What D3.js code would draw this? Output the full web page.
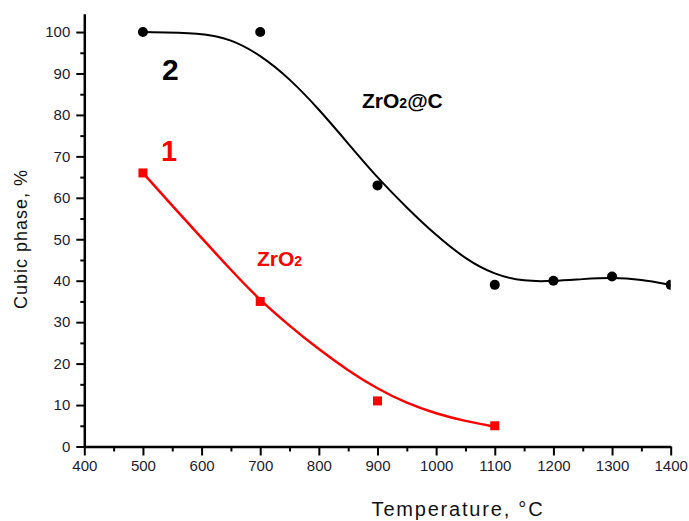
<!DOCTYPE html>
<html>
<head>
<meta charset="utf-8">
<script src="https://cdn.jsdelivr.net/npm/d3@7"></script>
<style>
  body { margin: 0; background: #fff; }
  svg { display: block; font-family: 'Liberation Sans', Arial, sans-serif; }
</style>
</head>
<body>
<div data-js-graph></div>
<script>
// measured points
const tempZrO2C = [500, 700, 900, 1100, 1200, 1300, 1400];
const cubicZrO2C = [100, 100, 63, 39, 40, 41, 39];
const tempZrO2 = [500, 700, 900, 1100];
const cubicZrO2 = [66, 35, 11, 5];

// fitted curves
const fitTempC = [500, 600, 650, 700, 750, 800, 850, 900, 950, 1000, 1050, 1100, 1150, 1200, 1250, 1300, 1350, 1400];
const fitCubicC = [100, 99.8, 98.3, 94.5, 88.8, 81.4, 73.1, 64.8, 57.6, 50.9, 45.2, 41.4, 39.8, 39.9, 40.4, 40.8, 40.3, 39];
const fitTemp = [500, 550, 600, 650, 700, 750, 800, 850, 900, 950, 1000, 1050, 1100];
const fitCubic = [66, 58.1, 50.3, 42.6, 35.2, 29.1, 23.4, 18.3, 13.9, 10.4, 7.9, 6.1, 4.8];

const xTicks = [400, 500, 600, 700, 800, 900, 1000, 1100, 1200, 1300, 1400];
const yTicks = [0, 10, 20, 30, 40, 50, 60, 70, 80, 90, 100];

const SETTING = {
  width: 689,
  height: 521,
  left: 84.3,
  right: 670.7,
  top: 13.8,
  bottom: 446.5,
};

const svg = d3.select('[data-js-graph]').append('svg')
  .attr('width', SETTING.width)
  .attr('height', SETTING.height);

const x = d3.scaleLinear().domain([400, 1400]).range([SETTING.left, SETTING.right]);
const y = d3.scaleLinear().domain([0, 104.4]).range([SETTING.bottom, SETTING.top]);

svg.append('clipPath').attr('id', 'plotclip')
  .append('rect')
  .attr('x', SETTING.left)
  .attr('y', 0)
  .attr('width', SETTING.right - SETTING.left)
  .attr('height', SETTING.bottom);

// minor ticks
svg.append('g')
  .attr('transform', `translate(0,${SETTING.bottom})`)
  .call(d3.axisBottom(x).tickValues(d3.range(450, 1400, 100)).tickSize(5).tickFormat(''))
  .call((g) => g.select('.domain').remove());
svg.append('g')
  .attr('transform', `translate(${SETTING.left},0)`)
  .call(d3.axisLeft(y).tickValues(d3.range(5, 100, 10)).tickSize(4).tickFormat(''))
  .call((g) => g.select('.domain').remove());

// major axes
const xAxis = svg.append('g')
  .attr('transform', `translate(0,${SETTING.bottom})`)
  .call(d3.axisBottom(x).tickValues(xTicks).tickFormat(d3.format('d'))
    .tickSize(9).tickSizeOuter(0).tickPadding(5));
const yAxis = svg.append('g')
  .attr('transform', `translate(${SETTING.left},0)`)
  .call(d3.axisLeft(y).tickValues(yTicks).tickFormat(d3.format('d'))
    .tickSize(8).tickSizeOuter(0).tickPadding(6));

svg.selectAll('.tick line').attr('stroke', '#000').attr('stroke-width', 2);
[xAxis, yAxis].forEach((a) => {
  a.attr('font-size', 15).attr('font-family', "'Liberation Sans', Arial, sans-serif");
  a.select('.domain').attr('stroke', '#000').attr('stroke-width', 2.5);
  a.selectAll('text').attr('fill', '#1c1c2e');
});

const plot = svg.append('g').attr('clip-path', 'url(#plotclip)');

const line = d3.line()
  .x((d) => x(d[0]))
  .y((d) => y(d[1]))
  .curve(d3.curveBasis);

plot.append('path')
  .datum(d3.zip(fitTempC, fitCubicC))
  .attr('d', line)
  .attr('fill', 'none')
  .attr('stroke', '#000')
  .attr('stroke-width', 2);

plot.append('path')
  .datum(d3.zip(fitTemp, fitCubic))
  .attr('d', line)
  .attr('fill', 'none')
  .attr('stroke', '#ff0000')
  .attr('stroke-width', 2.5);

plot.selectAll('circle')
  .data(d3.zip(tempZrO2C, cubicZrO2C))
  .enter()
  .append('circle')
  .attr('cx', (d) => x(d[0]))
  .attr('cy', (d) => y(d[1]))
  .attr('r', 5)
  .attr('fill', '#000');

plot.selectAll('rect.sq')
  .data(d3.zip(tempZrO2, cubicZrO2))
  .enter()
  .append('rect')
  .attr('class', 'sq')
  .attr('x', (d) => x(d[0]) - 4.5)
  .attr('y', (d) => y(d[1]) - 4.5)
  .attr('width', 9)
  .attr('height', 9)
  .attr('fill', '#ff0000');

// labels
svg.append('text')
  .attr('x', 162).attr('y', 80)
  .style('font-size', '30px').style('font-weight', 'bold')
  .attr('fill', '#000')
  .text('2');
svg.append('text')
  .attr('x', 161).attr('y', 161)
  .style('font-size', '29px').style('font-weight', 'bold')
  .attr('fill', '#ff0000')
  .text('1');

function chem(xPos, yPos, color, suffix) {
  const t = svg.append('text')
    .attr('x', xPos).attr('y', yPos)
    .style('font-size', '21px').style('font-weight', 'bold')
    .attr('fill', color);
  t.append('tspan').text('ZrO');
  t.append('tspan').style('font-size', '14px').text('2');
  if (suffix) t.append('tspan').text(suffix);
}
chem(362, 108, '#000', '@C');
chem(257, 266, '#ff0000', '');

svg.append('text')
  .attr('x', 458).attr('y', 516)
  .attr('text-anchor', 'middle')
  .style('font-size', '20px')
  .style('letter-spacing', '1.8px')
  .attr('fill', '#111')
  .text('Temperature, °C');

svg.append('text')
  .attr('transform', 'translate(27,239) rotate(-90)')
  .attr('text-anchor', 'middle')
  .style('font-size', '18px')
  .style('letter-spacing', '1px')
  .attr('fill', '#111')
  .text('Cubic phase,  %');
</script>
</body>
</html>
